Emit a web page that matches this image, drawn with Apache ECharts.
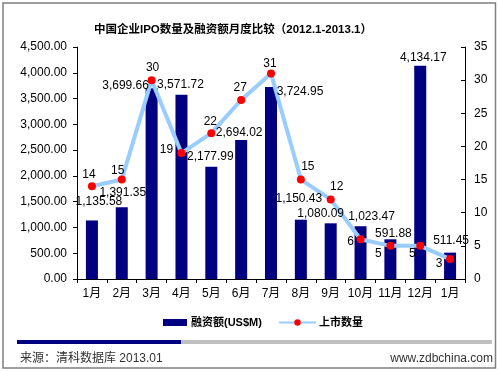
<!DOCTYPE html>
<html>
<head>
<meta charset="utf-8">
<script src="https://cdn.jsdelivr.net/npm/echarts@6/dist/echarts.min.js"></script>
<style>
html,body{margin:0;padding:0;background:#fff;}
#c{width:499px;height:371px;}
</style>
</head>
<body>
<div id="c"></div>
<script>
// ---- data ----
var months = ['1月','2月','3月','4月','5月','6月','7月','8月','9月','10月','11月','12月','1月'];
// bar heights as drawn in the picture (US$M)
var financing = [1135.58, 1391.35, 3699.66, 3571.72, 2177.99, 2694.02, 3724.95, 1150.43, 1080.09, 1023.47, 770, 4134.17, 511.45];
// data label texts printed on the picture
var financingLabels = ['1,135.58','1,391.35','3,699.66','3,571.72','2,177.99','2,694.02','3,724.95','1,150.43','1,080.09','1,023.47','591.88','4,134.17','511.45'];
var ipoCount = [14, 15, 30, 19, 22, 27, 31, 15, 12, 6, 5, 5, 3];
var leftTicks = [0, 500, 1000, 1500, 2000, 2500, 3000, 3500, 4000, 4500];
var rightTicks = [0, 5, 10, 15, 20, 25, 30, 35];

// label offsets (layout only)
var barLabelOffsets = [[7,-19],[1,-15],[-26,-3],[-1,-10],[-1,-10],[-2,-7],[29,5],[-2,-21],[-10,-10],[11,-10],[3,-6],[3,-8],[1,-12]];
var lineLabelOffsets = [[-3,-12],[-4,-9],[1,-12],[-15,-3],[-1,-11],[-1,-12],[-1,-10],[7,-13],[6,-13],[-10,2],[-12,8],[-8,8],[-11,5]];

var FONT = 'Arial, "Liberation Sans", "Noto Sans CJK SC", sans-serif';

function fmt2(v){
  return v.toFixed(2).replace(/\B(?=(\d{3})+(?!\d))/g, ',');
}

var barLabelData = financing.map(function(v, i){
  return {value: v, label: {offset: barLabelOffsets[i]}};
});
var lineData = ipoCount.map(function(v, i){
  return {value: v, label: {offset: lineLabelOffsets[i]}};
});

var chart = echarts.init(document.getElementById('c'), null, {renderer:'canvas'});
chart.setOption({
  animation: false,
  backgroundColor: '#fff',
  textStyle: {fontFamily: FONT},
  title: {
    text: '中国企业IPO数量及融资额月度比较（2012.1-2013.1）',
    left: 228, top: 19,
    textAlign: 'center',
    textStyle: {fontSize: 11.5, fontWeight: 'bold', color: '#000', fontFamily: FONT}
  },
  grid: {left: 77, top: 47, width: 388, height: 232, containLabel: false},
  legend: [
    {
      data: [{name: '融资额(US$M)', icon: 'rect'}],
      left: 158, top: 312, itemWidth: 24, itemHeight: 7, itemGap: 4,
      textStyle: {fontSize: 11, fontWeight: 'bold', color: '#000', fontFamily: FONT, padding: [0,0,0,-1]}
    },
    {
      data: [{name: '上市数量'}],
      left: 273, top: 312, itemWidth: 37, itemHeight: 8, itemGap: 4,
      textStyle: {fontSize: 11, fontWeight: 'bold', color: '#000', fontFamily: FONT, padding: [0,0,0,-2]}
    }
  ],
  xAxis: {
    type: 'category',
    data: months,
    boundaryGap: true,
    axisLine: {lineStyle: {color: '#000', width: 1}},
    axisTick: {show: true, length: 4, inside: false, alignWithLabel: false, lineStyle: {color: '#000'}},
    axisLabel: {fontSize: 12, color: '#000', margin: 9, interval: 0, fontFamily: FONT},
    splitLine: {show: false}
  },
  yAxis: [
    {
      type: 'value', min: 0, max: 4500, interval: 500,
      axisLine: {show: true, lineStyle: {color: '#000', width: 1}},
      axisTick: {show: true, length: 4, lineStyle: {color: '#000'}},
      axisLabel: {fontSize: 12, color: '#000', margin: 10, fontFamily: FONT,
        formatter: function(v){ return fmt2(v); }},
      splitLine: {show: false}
    },
    {
      type: 'value', min: 0, max: 35, interval: 5, position: 'right',
      axisLine: {show: true, lineStyle: {color: '#000', width: 1}},
      axisTick: {show: true, length: 4, inside: true, lineStyle: {color: '#000'}},
      axisLabel: {fontSize: 12, color: '#000', margin: 9, fontFamily: FONT},
      splitLine: {show: false}
    }
  ],
  series: [
    {
      name: '融资额(US$M)',
      type: 'bar',
      data: financing,
      barWidth: 12,
      itemStyle: {color: '#000080'},
      z: 2
    },
    {
      name: '上市数量',
      type: 'line',
      yAxisIndex: 1,
      data: lineData,
      symbol: 'circle',
      symbolSize: 8,
      lineStyle: {color: '#99ccff', width: 4},
      itemStyle: {color: '#ff0000', borderWidth: 0},
      label: {
        show: true, position: 'inside',
        fontSize: 12, color: '#000', fontFamily: FONT
      },
      z: 3
    },
    {
      // transparent overlay carrying the bar data labels above the line
      name: 'barLabels',
      type: 'bar',
      data: barLabelData,
      barWidth: 12,
      barGap: '-100%',
      silent: true,
      itemStyle: {color: 'rgba(0,0,0,0)'},
      label: {
        show: true, position: 'top', distance: 0,
        verticalAlign: 'middle', align: 'center',
        fontSize: 12, color: '#000', fontFamily: FONT,
        formatter: function(p){ return financingLabels[p.dataIndex]; }
      },
      z: 5
    }
  ],
  graphic: [
    {type: 'rect', shape: {x: 3, y: 3, width: 492.5, height: 365}, style: {fill: 'none', stroke: '#7f7f7f', lineWidth: 1.5}, silent: true},
    {type: 'rect', shape: {x: 181, y: 340, width: 311, height: 4}, style: {fill: '#c0c0c0'}, silent: true},
    {type: 'rect', shape: {x: 17, y: 340, width: 164, height: 4}, style: {fill: '#000080'}, silent: true},
    {type: 'text', left: 20, top: 353, style: {text: '来源：清科数据库 2013.01', fill: '#333', font: '12px ' + FONT}, silent: true},
    {type: 'text', right: 6, top: 353, style: {text: 'www.zdbchina.com', fill: '#333', font: '12px ' + FONT}, silent: true}
  ]
});
</script>
</body>
</html>
